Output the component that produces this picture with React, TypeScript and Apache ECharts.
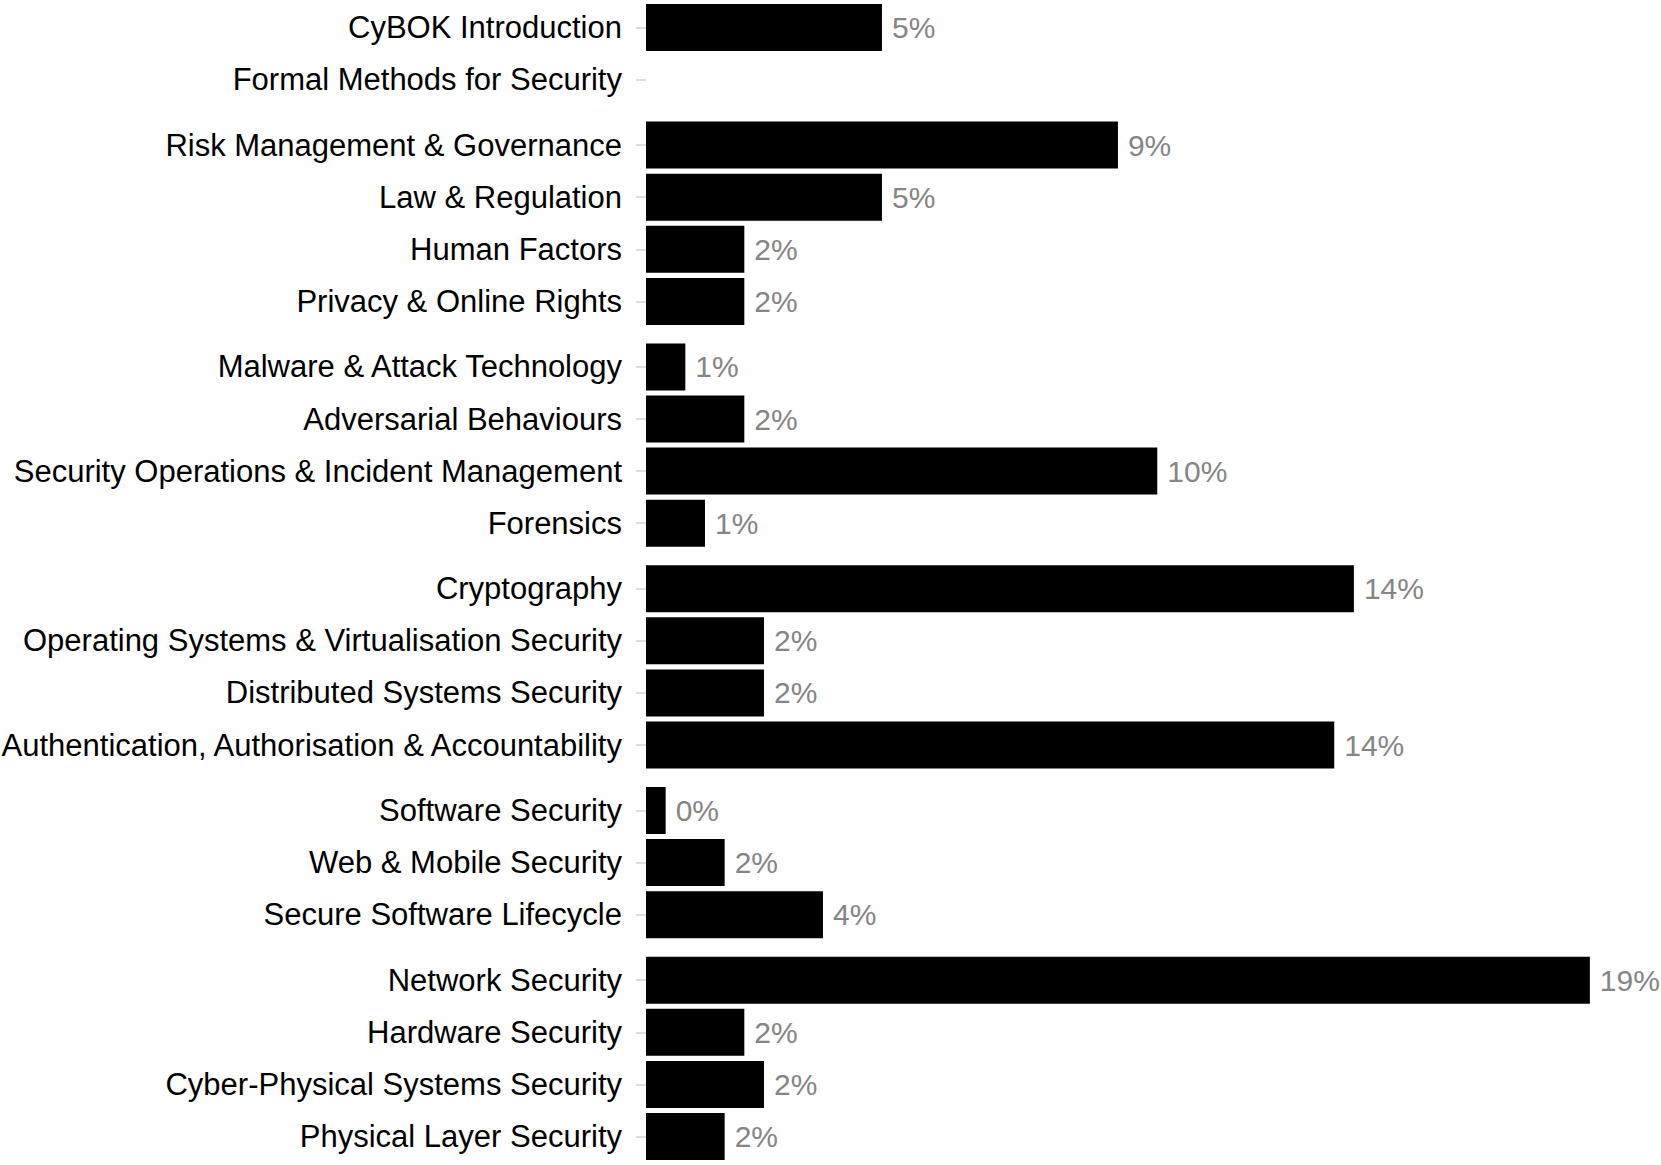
import React, { useEffect, useRef } from "react";
import * as echarts from "echarts";

// Knowledge areas (top to bottom), split into visual groups
const categories: string[] = [
  "CyBOK Introduction",
  "Formal Methods for Security",
  "Risk Management & Governance",
  "Law & Regulation",
  "Human Factors",
  "Privacy & Online Rights",
  "Malware & Attack Technology",
  "Adversarial Behaviours",
  "Security Operations & Incident Management",
  "Forensics",
  "Cryptography",
  "Operating Systems & Virtualisation Security",
  "Distributed Systems Security",
  "Authentication, Authorisation & Accountability",
  "Software Security",
  "Web & Mobile Security",
  "Secure Software Lifecycle",
  "Network Security",
  "Hardware Security",
  "Cyber-Physical Systems Security",
  "Physical Layer Security",
];

// Counts (labels show share of total)
const counts: number[] = [
  12, 0, 24, 12, 5, 5, 2, 5, 26, 3, 36, 6, 6, 35, 1, 4, 9, 48, 5, 6, 4,
];

const groupSizes: number[] = [2, 4, 4, 4, 3, 4];

const FONT = '"Liberation Sans", Arial, Helvetica, sans-serif';

export default function App() {
  const ref = useRef<HTMLDivElement>(null);

  useEffect(() => {
    if (!ref.current) return;
    const chart = echarts.init(ref.current, undefined, { renderer: "svg" });
    const total = counts.reduce((a, b) => a + b, 0);

    const step = 52.1;
    const gap = 65.5;
    const firstCenter = 27.5;
    const left = 646;
    const right = 31.8;
    const xMax = 50;

    const grids: any[] = [];
    const xAxes: any[] = [];
    const yAxes: any[] = [];
    const series: any[] = [];

    let idx = 0;
    let center = firstCenter;
    groupSizes.forEach((n, g) => {
      const cats = categories.slice(idx, idx + n);
      const vals = counts.slice(idx, idx + n);
      idx += n;
      const top = center - step / 2;
      grids.push({
        left,
        right,
        top,
        height: n * step,
        containLabel: false,
        outerBoundsMode: "none",
      });
      center += (n - 1) * step + gap;
      xAxes.push({
        type: "value",
        gridIndex: g,
        min: 0,
        max: xMax,
        show: false,
      });
      yAxes.push({
        type: "category",
        gridIndex: g,
        data: cats,
        inverse: true,
        axisLine: { show: false },
        axisTick: {
          show: true,
          length: 10,
          alignWithLabel: true,
          lineStyle: { color: "#d0d0d0", width: 1.5 },
        },
        axisLabel: {
          margin: 24,
          color: "#000",
          fontSize: 31,
          fontFamily: FONT,
        },
        splitLine: { show: false },
      });
      series.push({
        type: "bar",
        xAxisIndex: g,
        yAxisIndex: g,
        data: vals,
        barWidth: 47,
        itemStyle: { color: "#000" },
        label: {
          show: true,
          position: "right",
          distance: 10,
          color: "#858585",
          fontSize: 30,
          fontFamily: FONT,
          formatter: (p: any) =>
            p.value > 0 ? Math.round((p.value / total) * 100) + "%" : "",
        },
      });
    });

    chart.setOption({
      animation: false,
      backgroundColor: "#fff",
      grid: grids,
      xAxis: xAxes,
      yAxis: yAxes,
      series,
    });
    return () => chart.dispose();
  }, []);

  return (
    <div
      ref={ref}
      style={{ position: "absolute", left: 0, top: 0, width: 1661, height: 1165 }}
    />
  );
}
